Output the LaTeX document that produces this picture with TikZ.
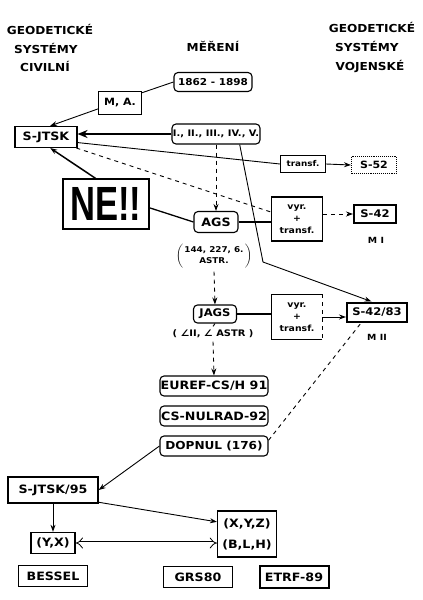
\documentclass[tikz,border=0pt]{standalone}
\usepackage{fontspec}
\usepackage{graphicx}
\setmainfont{DejaVu Sans}[FakeStretch=1.1]
\newfontfamily\nefont{Liberation Sans}
\usetikzlibrary{arrows.meta}
\begin{document}
\begin{tikzpicture}[x=1pt,y=-1pt,
  bx/.style={draw, line width=1.1pt, inner sep=0pt, align=center, font=\bfseries\fontsize{11.5}{13}\selectfont},
  rbx/.style={bx, rounded corners=4pt},
  sm/.style={font=\bfseries\fontsize{8.5}{12}\selectfont, align=center},
  hdr/.style={font=\bfseries\fontsize{11}{13}\selectfont},
  ln/.style={line width=0.9pt},
  thk/.style={line width=2.4pt},
  dsh/.style={line width=0.9pt, dash pattern=on 4pt off 4pt},
  arr/.style={-{Stealth[length=7pt,width=5pt]}}
]
\useasboundingbox (0,0) rectangle (423,600);
% headers
\node[hdr] (h1) at (50,29) {GEODETICKÉ};
\node[hdr] (h2) at (46,48) {SYSTÉMY};
\node[hdr] (h3) at (45,66) {CIVILNÍ};
\node[hdr] (h4) at (213,46) {MĚŘENÍ};
\node[hdr] (h5) at (372,27) {GEODETICKÉ};
\node[hdr] (h6) at (367,46) {SYSTÉMY};
\node[hdr] (h7) at (370,66) {VOJENSKÉ};
% nodes
\node[rbx, minimum width=78pt, minimum height=19pt, font=\bfseries\fontsize{9.5}{11}\selectfont] (d1862) at (213,82) {1862 - 1898};
\node[bx, minimum width=43pt, minimum height=23pt, font=\bfseries\fontsize{10}{12}\selectfont] (ma) at (120,103) {M, A.};
\node[bx, minimum width=62pt, minimum height=21pt] (sjtsk) at (46,137) {S-JTSK};
\node[rbx, minimum width=88pt, minimum height=20pt, font=\bfseries\fontsize{9}{11}\selectfont] (iv) at (216,134) {I., II., III., IV., V.};
\node[bx, minimum width=45pt, minimum height=17pt, font=\bfseries\fontsize{8}{10}\selectfont] (tr) at (303,164) {transf.};
\node[bx, densely dotted, minimum width=45pt, minimum height=17pt, font=\bfseries\fontsize{10}{12}\selectfont] (s52) at (374,165) {S-52};
\node[bx, minimum width=86pt, minimum height=50pt] (ne) at (106,204) {\scalebox{0.72}[1]{\nefont\bfseries\fontsize{48}{48}\selectfont NE!!}};
\node[rbx, minimum width=44pt, minimum height=21pt] (ags) at (216,222) {AGS};
\node[bx, sm, minimum width=51pt, minimum height=44pt] (vyr1) at (297,219) {vyr.\\+\\transf.};
\node[bx, line width=2pt, minimum width=42pt, minimum height=18pt, font=\bfseries\fontsize{10.5}{12}\selectfont] (s42) at (375,214) {S-42};
\node[sm] (mi) at (376,240) {M I};
\node[font=\bfseries\fontsize{8}{11}\selectfont] (astr) at (214,256) {$\left(\begin{tabular}{@{\,}c@{\,}}144, 227, 6.\\ASTR.\end{tabular}\right)$};
\node[rbx, minimum width=43pt, minimum height=18pt, font=\bfseries\fontsize{10.5}{12}\selectfont] (jags) at (215,314) {JAGS};
\node[sm, inner sep=0pt, minimum width=50pt, minimum height=45pt] (vyr2) at (297,317) {vyr.\\+\\transf.};
\draw[line width=1.1pt] (vyr2.north east) -- (vyr2.north west) -- (vyr2.south west) -- (vyr2.south east);
\draw[dsh] (vyr2.north east) -- (vyr2.south east);
\node[bx, line width=2pt, minimum width=60pt, minimum height=19pt, font=\bfseries\fontsize{10.5}{12}\selectfont] (s4283) at (377,312) {S-42/83};
\node[sm] (mii) at (377,337) {M II};
\node[font=\bfseries\fontsize{9}{11}\selectfont] (ang) at (213,334) {( ∠II, ∠ ASTR )};
\node[rbx, minimum width=108pt, minimum height=20pt] (euref) at (214,386) {EUREF-CS/H 91};
\node[rbx, minimum width=108pt, minimum height=20pt] (nulrad) at (214,416) {CS-NULRAD-92};
\node[rbx, minimum width=108pt, minimum height=20pt, font=\bfseries\fontsize{11}{13}\selectfont] (dopnul) at (214,446) {DOPNUL (176)};
\node[bx, line width=1.4pt, minimum width=90pt, minimum height=26pt] (sj95) at (53,490) {S-JTSK/95};
\node[bx, line width=1.4pt, minimum width=44pt, minimum height=21pt] (yx) at (53,543) {(Y,X)};
\node[bx, minimum width=59pt, minimum height=46pt, font=\bfseries\fontsize{11.5}{21}\selectfont] (xyz) at (247,534) {(X,Y,Z)\\(B,L,H)};
\node[bx, line width=1.3pt, minimum width=69pt, minimum height=21pt] (bessel) at (53,576) {BESSEL};
\node[bx, line width=1.3pt, minimum width=69pt, minimum height=21pt] (grs) at (198,577) {GRS80};
\node[bx, line width=2pt, minimum width=69pt, minimum height=22pt] (etrf) at (294,577) {ETRF-89};
\coordinate (bend) at (263,262);
% connectors
\draw[ln] (d1862.west) -- (ma.25);
\draw[ln, arr] (ma.195) -- (sjtsk.70);
\draw[thk, -{Stealth[length=10pt,width=8pt]}] (iv.west) -- (iv.west -| sjtsk.east);
\draw[ln] (sjtsk.-10) -- (tr.west);
\draw[ln, arr] (tr.east) -- (s52.west);
\draw[dsh] (sjtsk.-20) -- (vyr1.165);
\draw[line width=1.5pt, arr] (ne.112) -- (sjtsk.-69);
\draw[line width=1.3pt] (ne.-5) -- (ags.west);
\draw[dsh, arr] (iv.south) -- (ags.north);
\draw[thk] (ags.east) -- (ags.east -| vyr1.west);
\draw[dsh, arr] (s42.west -| vyr1.east) -- (s42.west);
\draw[ln, arr] (iv.-24) -- (bend) -- (s4283.118);
\draw[dsh, arr] (astr.south) -- (jags.north);
\draw[dsh] (jags.south) -- (ang.north);
\draw[dsh, arr] (ang.south) -- (euref.north);
\draw[thk] (jags.east) -- (jags.east -| vyr2.west);
\draw[ln, arr] (vyr2.east) -- (vyr2.east -| s4283.west);
\draw[dsh] (dopnul.6) -- (s4283.-146);
\draw[ln, arr] (dopnul.west) -- (sj95.east);
\draw[ln, arr] (sj95.south) -- (yx.north);
\draw[ln, arr] (sj95.-15) -- (xyz.158);
\draw[double, double distance=3pt, line width=0.8pt, {Implies}-{Implies}] (yx.east) -- (yx.east -| xyz.west);
\end{tikzpicture}
\end{document}
